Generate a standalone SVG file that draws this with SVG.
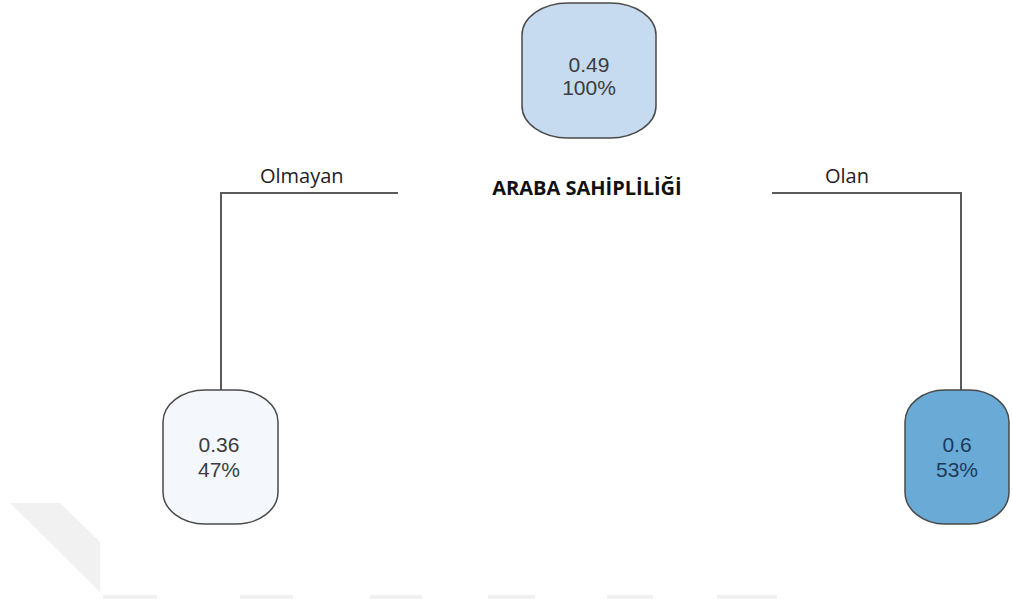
<svg xmlns="http://www.w3.org/2000/svg" width="1012" height="599" viewBox="0 0 1012 599">
<style>
.bg{fill:#ffffff}
.wm{fill:#f1f1f1}
.conn{fill:none;stroke:#5a5a5a;stroke-width:2}
.node{stroke:#4a4a4a;stroke-width:1.5}
.val{font-family:"Liberation Sans",Arial,sans-serif;font-size:21px;fill:#3c3c3c;text-anchor:middle}
.lbl{font-family:"Open Sans","Noto Sans",sans-serif;font-size:20px;fill:#222}
.title{font-family:"Open Sans","Noto Sans",sans-serif;font-size:20px;font-weight:bold;fill:#111;text-anchor:middle}
</style>
<rect class="bg" x="0" y="0" width="1012" height="599"/>
<g id="watermark">
<polygon class="wm" points="10,503 60,503 100,542 100,592"/>
<rect class="wm" x="103" y="595" width="54" height="4"/>
<rect class="wm" x="240" y="595" width="53" height="4"/>
<rect class="wm" x="370" y="595" width="52" height="4"/>
<rect class="wm" x="488" y="595" width="47" height="4"/>
<rect class="wm" x="607" y="595" width="46" height="4"/>
<rect class="wm" x="717" y="595" width="60" height="4"/>
</g>
<g id="connectors">
<polyline class="conn" points="398,193 221,193 221,390"/>
<polyline class="conn" points="772,193 961,193 961,390"/>
<text class="lbl" x="260" y="183">Olmayan</text>
<text class="lbl" x="825" y="183">Olan</text>
</g>
<g id="split">
<text class="title" x="587" y="195">ARABA SAHİPLİLİĞİ</text>
</g>
<g id="node-root">
<rect class="node" x="522" y="3" width="134" height="135" rx="46" ry="32" fill="#c6dbef"/>
<text class="val" x="589" y="72">0.49</text>
<text class="val" x="589" y="95">100%</text>
</g>
<g id="node-olmayan">
<rect class="node" x="163" y="390" width="115" height="134" rx="42" ry="32" fill="#f4f8fd"/>
<text class="val" x="219" y="452">0.36</text>
<text class="val" x="219" y="477">47%</text>
</g>
<g id="node-olan">
<rect class="node" x="905" y="390" width="104" height="134" rx="40" ry="32" fill="#6aaad6" stroke="#2d4a66"/>
<text class="val" x="957" y="452" fill="#1c3a5a" style="fill:#1c3a5a">0.6</text>
<text class="val" x="957" y="477" style="fill:#1c3a5a">53%</text>
</g>
</svg>
